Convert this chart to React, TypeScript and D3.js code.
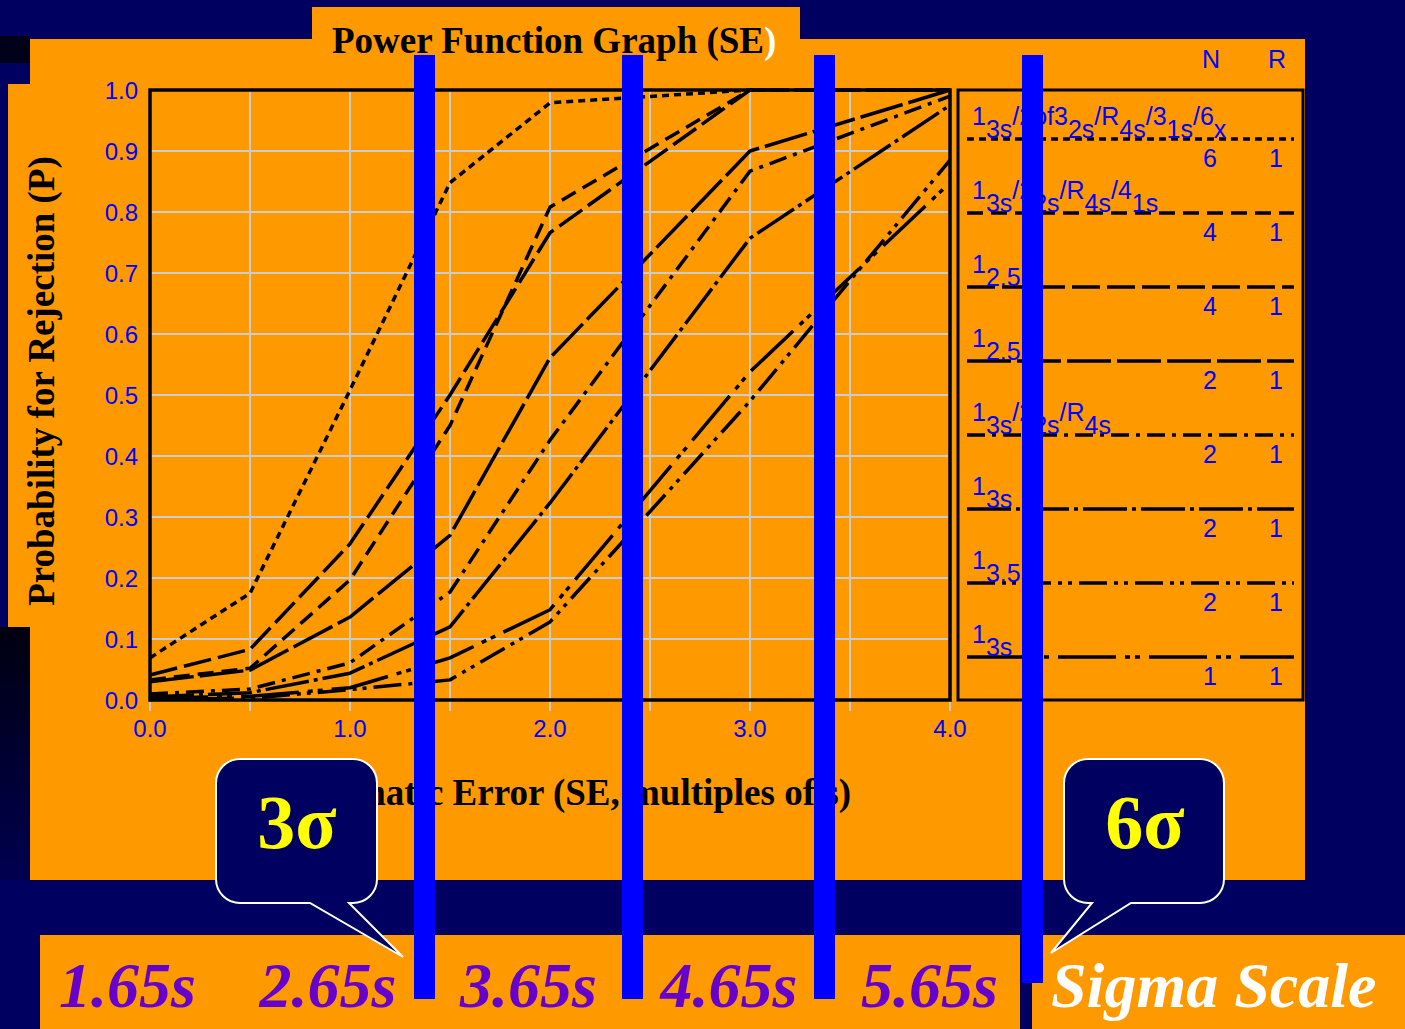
import React from "react";
import * as d3 from "d3";

// ---- data ----
const seValues = [0, 0.5, 1, 1.5, 2, 3, 4];
const multi6 = [0.069, 0.175, 0.508, 0.848, 0.979, 1.0, 1.0];
const multi4 = [0.033, 0.052, 0.197, 0.45, 0.808, 1.0, 1.0];
const r25n4 = [0.041, 0.083, 0.256, 0.5, 0.766, 1.0, 1.0];
const r25n2 = [0.03, 0.049, 0.136, 0.27, 0.561, 0.9, 1.0];
const multi2 = [0.01, 0.018, 0.061, 0.177, 0.426, 0.867, 0.99];
const r3n2 = [0.005, 0.012, 0.044, 0.12, 0.323, 0.757, 0.975];
const r35n2 = [0.001, 0.003, 0.017, 0.033, 0.128, 0.49, 0.885];
const r3n1 = [0.003, 0.006, 0.02, 0.069, 0.148, 0.538, 0.848];

const seriesList = [multi6, multi4, r25n4, r25n2, multi2, r3n2, r35n2, r3n1];
const dashList = [
  "7,5",
  "16,8",
  "28,7",
  "44,6",
  "18,7,4,7",
  "44,5,4,5",
  "28,7,4,6,4,7",
  "58,9,5,5,5,9",
];
// legend label segments: [text, isSubscript]
const legendLabels: [string, boolean][][] = [
  [["1", false], ["3s", true], ["/2of3", false], ["2s", true], ["/R", false], ["4s", true], ["/3", false], ["1s", true], ["/6", false], ["x", true]],
  [["1", false], ["3s", true], ["/2", false], ["2s", true], ["/R", false], ["4s", true], ["/4", false], ["1s", true]],
  [["1", false], ["2.5s", true]],
  [["1", false], ["2.5s", true]],
  [["1", false], ["3s", true], ["/2", false], ["2s", true], ["/R", false], ["4s", true]],
  [["1", false], ["3s", true]],
  [["1", false], ["3.5s", true]],
  [["1", false], ["3s", true]],
];
const legendN = [6, 4, 4, 2, 2, 2, 2, 1];
const legendR = [1, 1, 1, 1, 1, 1, 1, 1];
const xTickLabels = [0, 1, 2, 3, 4];
const yTickLabels = [0, 0.1, 0.2, 0.3, 0.4, 0.5, 0.6, 0.7, 0.8, 0.9, 1.0];
const sigmaLabels = ["1.65s", "2.65s", "3.65s", "4.65s", "5.65s"];

const W = 1405, H = 1029;
const NAVY = "#000060";
const ORANGE = "#ff9900";
const SERIF = "'Liberation Serif', 'Times New Roman', Times, serif";
const SANS = "'Liberation Sans', Arial, Helvetica, sans-serif";
const BLUE = "#0000ff";

export default function App() {
  const x = d3.scaleLinear().domain([0, 4]).range([150, 950]);
  const y = d3.scaleLinear().domain([0, 1]).range([700, 90]);
  const line = d3
    .line<number>()
    .x((_, i) => x(seValues[i]))
    .y((d) => y(d));

  const gridX = d3.range(0.5, 4, 0.5);
  const gridY = d3.range(1, 10).map((v) => v / 10);
  const tickX = d3.range(0, 4.01, 0.5);

  const legendY = d3.scaleLinear().domain([0, 7]).range([139, 657]);

  const callout = (x0: number, x1: number, y0: number, y1: number, r: number, tail: [number, number, number, number]) => {
    const [rb, tx, ty, lb] = tail;
    return `M${x0 + r},${y0} H${x1 - r} A${r},${r} 0 0 1 ${x1},${y0 + r} V${y1 - r} A${r},${r} 0 0 1 ${x1 - r},${y1} H${rb} L${tx},${ty} L${lb},${y1} H${x0 + r} A${r},${r} 0 0 1 ${x0},${y1 - r} V${y0 + r} A${r},${r} 0 0 1 ${x0 + r},${y0} Z`;
  };

  return (
    <svg
      width={W}
      height={H}
      style={{ position: "absolute", left: 0, top: 0, display: "block" }}
    >
      <defs>
        <linearGradient id="leftfade" x1="0" y1="0" x2="0" y2="1">
          <stop offset="0" stopColor="#000010" />
          <stop offset="1" stopColor="#000050" />
        </linearGradient>
      </defs>
      {/* background */}
      <rect x={0} y={0} width={W} height={H} fill={NAVY} />
      <rect x={0} y={36} width={30} height={27} fill="#000018" />
      <rect x={0} y={627} width={30} height={253} fill="url(#leftfade)" />

      {/* orange panels */}
      <rect x={30} y={39} width={1275} height={841} fill={ORANGE} />
      <rect x={312} y={7} width={488} height={33} fill={ORANGE} />
      <rect x={8} y={84} width={40} height={543} fill={ORANGE} />
      <rect x={40} y={935} width={980} height={94} fill={ORANGE} />
      <rect x={1032} y={935} width={373} height={94} fill={ORANGE} />

      {/* title */}
      <text x={332} y={53} fontFamily={SERIF} fontWeight="bold" fontSize={37} fill="#000">
        Power Function Graph (SE<tspan fill="#fff">)</tspan>
      </text>

      {/* grid */}
      {gridX.map((g) => (
        <line key={"gx" + g} x1={x(g)} x2={x(g)} y1={90} y2={700} stroke="#cccccc" strokeWidth={2} />
      ))}
      {gridY.map((g) => (
        <line key={"gy" + g} x1={150} x2={950} y1={y(g)} y2={y(g)} stroke="#cccccc" strokeWidth={2} />
      ))}
      {tickX.map((g) => (
        <line key={"tx" + g} x1={x(g)} x2={x(g)} y1={700} y2={711} stroke="#cccccc" strokeWidth={2} />
      ))}

      {/* curves */}
      {seriesList.map((s, i) => (
        <path
          key={"s" + i}
          d={line(s) || ""}
          fill="none"
          stroke="#000"
          strokeWidth={3.5}
          strokeDasharray={dashList[i]}
          strokeLinejoin="round"
        />
      ))}

      {/* plot frame */}
      <rect x={150} y={90} width={800} height={610} fill="none" stroke="#000" strokeWidth={3.5} />

      {/* tick labels */}
      {yTickLabels.map((t) => (
        <text key={"yl" + t} x={138} y={y(t) + 9} textAnchor="end" fontFamily={SANS} fontSize={24} fill={BLUE}>
          {d3.format(".1f")(t)}
        </text>
      ))}
      {xTickLabels.map((t) => (
        <text key={"xl" + t} x={x(t)} y={737} textAnchor="middle" fontFamily={SANS} fontSize={24} fill={BLUE}>
          {d3.format(".1f")(t)}
        </text>
      ))}

      {/* axis titles */}
      <text
        transform="translate(54,381) rotate(-90)"
        textAnchor="middle"
        fontFamily={SERIF}
        fontWeight="bold"
        fontSize={37}
        fill="#000"
      >
        Probability for Rejection (P)
      </text>
      <text x={851} y={805} textAnchor="end" fontFamily={SERIF} fontWeight="bold" fontSize={37} fill="#000">
        Systematic Error (SE, multiples of s)
      </text>

      {/* legend */}
      <rect x={958} y={90} width={345} height={610} fill="none" stroke="#000" strokeWidth={3} />
      <text x={1211} y={68} textAnchor="middle" fontFamily={SANS} fontSize={25} fill={BLUE}>N</text>
      <text x={1277} y={68} textAnchor="middle" fontFamily={SANS} fontSize={25} fill={BLUE}>R</text>
      {legendLabels.map((segs, i) => {
        const ly = legendY(i);
        return (
          <g key={"lg" + i}>
            <line x1={967} x2={1294} y1={ly} y2={ly} stroke="#000" strokeWidth={3.5} strokeDasharray={dashList[i]} />
            <text x={972} y={ly - 14} fontFamily={SANS} fontSize={25} fill={BLUE}>
              {segs.map(([t, sub], j) => (
                <tspan key={j} dy={j === 0 ? 0 : sub ? 13 : -13}>{t}</tspan>
              ))}
            </text>
            <text x={1210} y={ly + 28} textAnchor="middle" fontFamily={SANS} fontSize={25} fill={BLUE}>
              {legendN[i]}
            </text>
            <text x={1276} y={ly + 28} textAnchor="middle" fontFamily={SANS} fontSize={25} fill={BLUE}>
              {legendR[i]}
            </text>
          </g>
        );
      })}

      {/* sigma scale labels */}
      {sigmaLabels.map((t, i) => (
        <text key={t} x={59 + 200.5 * i} y={1007} fontFamily={SERIF} fontWeight="bold" fontStyle="italic" fontSize={64} fill="#6600cc">
          {t}
        </text>
      ))}
      <text x={1051} y={1007} fontFamily={SERIF} fontWeight="bold" fontStyle="italic" fontSize={64} fill="#ffffff">
        Sigma Scale
      </text>

      {/* callouts */}
      <path d={callout(216, 377, 759, 903, 24, [349, 403, 957, 310])} fill={NAVY} stroke="#ffffff" strokeWidth={2} />
      <text x={297} y={848} textAnchor="middle" fontFamily={SERIF} fontWeight="bold" fontSize={76} fill="#ffff00">3σ</text>
      <path d={callout(1064, 1224, 759, 903, 24, [1131, 1051, 953, 1092])} fill={NAVY} stroke="#ffffff" strokeWidth={2} />
      <text x={1145} y={848} textAnchor="middle" fontFamily={SERIF} fontWeight="bold" fontSize={76} fill="#ffff00">6σ</text>

      {/* blue bars */}
      <rect x={414} y={55} width={21} height={944} fill={BLUE} />
      <rect x={622} y={55} width={21} height={944} fill={BLUE} />
      <rect x={814} y={55} width={21} height={944} fill={BLUE} />
      <rect x={1022} y={55} width={21} height={928} fill={BLUE} />
    </svg>
  );
}
